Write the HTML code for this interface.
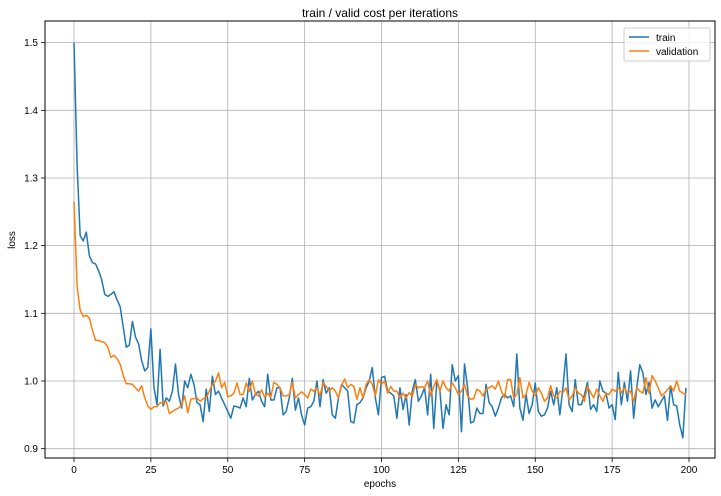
<!DOCTYPE html>
<html><head><meta charset="utf-8"><style>
body{margin:0;background:#fff;}
svg{display:block;font-family:"Liberation Sans","DejaVu Sans",sans-serif;}
</style></head><body>
<svg id="chart" width="721" height="496" xmlns="http://www.w3.org/2000/svg">
<rect x="0" y="0" width="721" height="496" fill="#fff"/>
<g id="grid"></g>
<g id="series"></g>
<rect x="45" y="21" width="670" height="437" fill="none" stroke="#000" stroke-width="1"/>
<g id="ticks"></g>
<text x="380" y="17" text-anchor="middle" font-size="12">train / valid cost per iterations</text>
<text x="380" y="487" text-anchor="middle" font-size="10">epochs</text>
<text x="15" y="240" text-anchor="middle" font-size="10" transform="rotate(-90 15 240)">loss</text>
<g>
<rect x="624" y="28" width="86" height="33" rx="2" fill="#fff" fill-opacity="0.8" stroke="#ccc"/>
<g><line x1="629" y1="37" x2="649" y2="37" stroke="#1f77b4" stroke-width="1.5"/><text x="656" y="41" font-size="10">train</text></g>
<g><line x1="629" y1="51" x2="649" y2="51" stroke="#ff7f0e" stroke-width="1.5"/><text x="656" y="55" font-size="10">validation</text></g>
</g>
</svg>
<script>
const xTicks=[0,25,50,75,100,125,150,175,200];
const yTicks=[0.9,1.0,1.1,1.2,1.3,1.4,1.5];
const train=[1.50,1.32,1.215,1.207,1.22,1.185,1.175,1.173,1.163,1.15,1.128,1.125,1.128,1.132,1.12,1.11,1.08,1.05,1.053,1.088,1.065,1.055,1.03,1.015,1.02,1.077,0.99,0.965,1.047,0.963,
0.975,0.97,0.985,1.025,0.98,0.96,1.0,0.99,1.01,0.995,
0.968,0.965,0.94,0.988,0.955,1.007,0.98,0.985,0.975,0.965,
0.955,0.945,0.963,0.962,0.96,0.975,0.962,1.004,0.972,0.98,
0.985,0.97,0.962,1.01,0.972,0.972,0.99,0.99,0.95,0.955,
0.975,1.004,0.957,0.975,0.95,0.935,0.96,0.962,0.97,1.0,
0.962,1.002,0.982,0.99,0.95,0.945,0.975,0.995,0.99,0.985,
0.94,0.938,0.965,0.968,0.975,0.99,1.0,1.02,0.975,0.95,
1.005,1.007,0.985,0.982,0.978,0.945,0.99,0.958,0.98,0.935,
0.985,1.002,0.97,0.978,0.99,0.95,1.01,0.93,1.0,0.985,
0.93,0.965,0.95,1.024,1.0,1.008,0.925,1.025,0.99,0.938,
0.94,0.96,0.952,0.952,0.995,0.968,0.962,0.948,0.96,0.975,
0.98,0.975,0.978,0.962,1.04,0.96,0.942,0.98,0.952,0.965,
0.997,0.955,0.948,0.95,0.96,0.985,0.965,0.99,0.95,0.99,
1.04,0.965,0.955,1.002,0.965,0.965,0.98,0.998,0.958,0.965,
0.955,1.0,0.985,0.982,0.96,0.965,0.943,1.013,0.965,0.998,
0.97,1.015,0.945,0.99,1.024,1.012,0.98,0.998,0.96,0.972,
0.962,0.97,0.978,0.942,0.993,0.965,0.963,0.935,0.916,0.99];
const validation=[1.265,1.14,1.105,1.095,1.097,1.093,1.075,1.06,1.06,1.058,1.057,1.05,1.035,1.038,1.033,1.025,1.008,0.996,0.996,0.995,0.99,0.985,0.993,0.975,0.963,0.958,0.962,0.962,0.968,0.967,0.97,
0.952,0.955,0.958,0.96,0.965,0.978,0.953,0.973,0.974,
0.975,0.97,0.974,0.975,0.985,0.995,1.0,1.012,0.99,0.998,
0.977,0.978,0.982,0.997,0.98,0.98,0.997,0.985,1.0,0.98,
0.978,0.987,0.976,0.982,0.976,0.998,0.995,0.99,0.978,0.978,
0.98,0.998,0.975,0.98,0.984,0.98,0.975,0.988,0.985,0.99,
0.978,0.998,0.992,0.985,0.99,0.985,0.975,0.993,1.003,0.99,
0.995,0.992,0.973,0.99,0.975,0.995,1.002,0.995,0.978,1.002,
0.995,1.0,0.982,0.992,0.985,0.985,0.975,0.982,0.975,0.983,
0.977,0.995,0.99,0.992,0.99,1.0,0.978,0.992,1.002,0.985,
1.0,0.99,0.985,0.997,0.99,0.98,0.985,0.995,0.978,0.973,
0.974,0.988,0.985,0.978,0.988,0.99,0.993,0.988,1.0,0.985,
0.975,1.002,1.002,0.975,0.98,1.005,0.975,0.98,0.998,0.985,
0.978,0.99,0.982,0.97,0.975,0.993,0.978,0.975,0.985,0.983,
0.99,0.972,0.978,0.99,0.982,0.98,0.97,0.992,0.983,0.975,
0.988,0.978,0.97,0.982,0.98,0.988,0.985,0.99,0.983,0.99,
0.982,0.985,0.97,0.99,0.985,0.982,1.005,0.982,1.008,1.0,
0.99,0.978,0.982,0.987,0.993,0.985,1.0,0.985,0.982,0.98];

const NS="http://www.w3.org/2000/svg";
function xs(e){return 74+(e/200)*615;}
function ys(v){return 381-(v-1.0)*676.7;}
function mk(tag,attrs,parent){const el=document.createElementNS(NS,tag);for(const k in attrs)el.setAttribute(k,attrs[k]);parent.appendChild(el);return el;}
const grid=document.getElementById('grid'),ticks=document.getElementById('ticks'),series=document.getElementById('series');
xTicks.forEach(t=>{
  const x=xs(t);
  const g=mk('line',{x1:x,y1:21,x2:x,y2:458,stroke:'#b0b0b0','stroke-width':0.8},grid);
  
  
  mk('line',{x1:x,y1:458,x2:x,y2:462,stroke:'#000','stroke-width':0.8},ticks);
  const tx=mk('text',{x:x,y:473,'text-anchor':'middle','font-size':10},ticks);
  tx.textContent=t;
  
  
});
yTicks.forEach(t=>{
  const y=ys(t);
  const g=mk('line',{x1:45,y1:y,x2:715,y2:y,stroke:'#b0b0b0','stroke-width':0.8},grid);
  
  
  mk('line',{x1:41,y1:y,x2:45,y2:y,stroke:'#000','stroke-width':0.8},ticks);
  const tx=mk('text',{x:38,y:y+3.5,'text-anchor':'end','font-size':10},ticks);
  tx.textContent=t.toFixed(1);
  
  
});
function line(data,color,name){
  const d=data.map((v,i)=>(i?'L':'M')+xs(i).toFixed(2)+','+ys(v).toFixed(2)).join('');
  const p=mk('path',{d:d,fill:'none',stroke:color,'stroke-width':1.5,'stroke-linejoin':'round'},series);
  
  
}
line(train,'#1f77b4','train-line');
line(validation,'#ff7f0e','validation-line');
</script>
</body></html>
